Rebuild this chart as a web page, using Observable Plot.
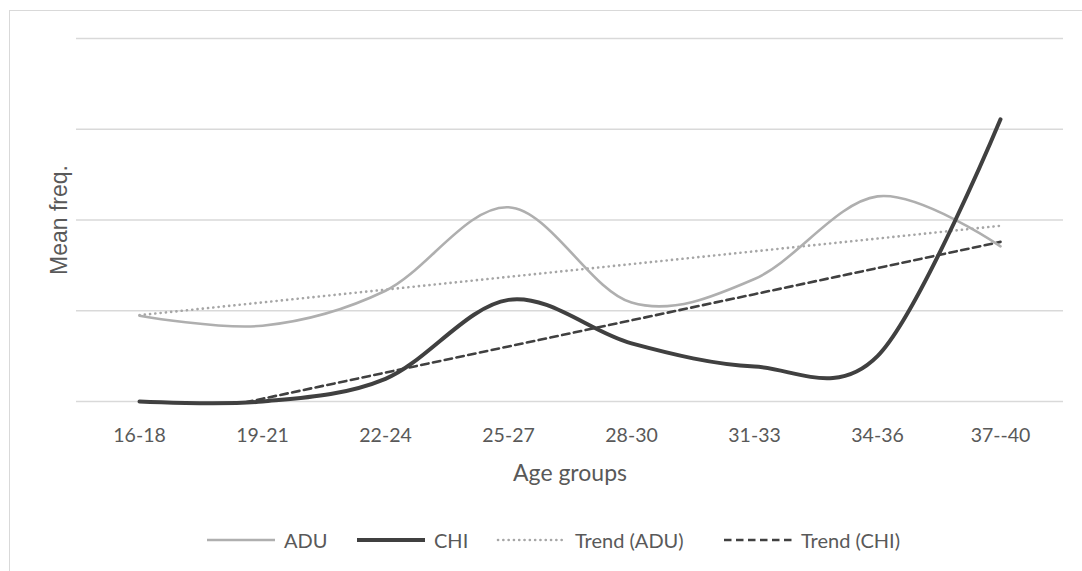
<!DOCTYPE html>
<html>
<head>
<meta charset="utf-8">
<script src="https://cdn.jsdelivr.net/npm/d3@7"></script>
<script src="https://cdn.jsdelivr.net/npm/@observablehq/plot@0.6"></script>
<style>
  body { margin: 0; background: #fff; font-family: Lato, "Open Sans", sans-serif; color: #595959; }
  #wrap { position: relative; width: 1082px; height: 571px; overflow: hidden; }
  #frame { position: absolute; left: 9px; top: 10px; width: 1200px; height: 700px; border: 1px solid #d9d9d9; box-sizing: border-box; }
  #chart { position: absolute; left: 0; top: 0; }
  #legend { position: relative; height: 40px; font-size: 20px; color: #595959; }
  .item { position: absolute; top: 0; height: 40px; display: flex; align-items: center; white-space: nowrap; }
  .item svg { margin-right: 7px; }
</style>
</head>
<body>
<div id="wrap">
  <div id="frame"></div>
  <div id="chart"></div>
</div>
<script>
// Age groups on the x axis
const ageGroups = ["16-18", "19-21", "22-24", "25-27", "28-30", "31-33", "34-36", "37--40"];
// Mean frequency per age group
const aduValues = [0.945, 0.835, 1.22, 2.14, 1.09, 1.35, 2.26, 1.71];
const chiValues = [0, 0, 0.25, 1.12, 0.64, 0.385, 0.5, 3.11];
// Horizontal gridlines (no tick labels are shown on the y axis)
const gridValues = [0, 1, 2, 3, 4];

// Least-squares linear trend over the group index (1..n)
function linearTrend(vals) {
  const xs = vals.map((_, i) => i + 1);
  const mx = d3.mean(xs), my = d3.mean(vals);
  const slope = d3.sum(xs, (x, i) => (x - mx) * (vals[i] - my)) / d3.sum(xs, x => (x - mx) ** 2);
  return xs.map(x => my + slope * (x - mx));
}

const toRows = (vals) => ageGroups.map((g, i) => ({group: g, value: vals[i]}));
const adu = toRows(aduValues);
const chi = toRows(chiValues);
const aduTrend = toRows(linearTrend(aduValues));
const chiTrend = toRows(linearTrend(chiValues));

const styles = {
  adu:      {stroke: "#afafaf", strokeWidth: 2.6},
  chi:      {stroke: "#404040", strokeWidth: 4},
  aduTrend: {stroke: "#a6a6a6", strokeWidth: 2.6, strokeDasharray: "0.1 5.2", strokeLinecap: "round"},
  chiTrend: {stroke: "#404040", strokeWidth: 2.6, strokeDasharray: "7.5 4.5"}
};

const chart = Plot.plot({
  width: 1082,
  height: 520,
  marginLeft: 76,
  marginRight: 19,
  marginTop: 38,
  marginBottom: 119,
  style: {background: "transparent", color: "#595959", fontFamily: "Lato, 'Open Sans', sans-serif"},
  x: {type: "point", domain: ageGroups, padding: 0.5},
  y: {domain: [0, 4]},
  marks: [
    Plot.ruleY(gridValues, {stroke: "#d9d9d9", strokeWidth: 1.4}),
    Plot.axisX({tickSize: 0, tickPadding: 27, fontSize: 19.5, label: null}),
    Plot.axisY({ticks: [], label: null}),
    Plot.line(aduTrend, {x: "group", y: "value", ...styles.aduTrend}),
    Plot.line(chiTrend, {x: "group", y: "value", clip: true, ...styles.chiTrend}),
    Plot.line(adu, {x: "group", y: "value", curve: "catmull-rom", tension: 0, ...styles.adu}),
    Plot.line(chi, {x: "group", y: "value", curve: "catmull-rom", tension: 0, strokeLinecap: "round", ...styles.chi}),
    Plot.text(["Age groups"], {text: d => d, frameAnchor: "bottom", textAnchor: "middle", dy: 79, fontSize: 23, fill: "#595959"}),
    Plot.text(["Mean freq."], {text: d => d, frameAnchor: "left", textAnchor: "middle", rotate: -90, dx: -17, fontSize: 23, fill: "#595959", fontFamily: "'Liberation Sans', Arial, sans-serif"})
  ]
});

const host = document.getElementById("chart");
host.appendChild(chart);

// Legend below the chart
const legendItems = [
  {label: "ADU", style: styles.adu, left: 205},
  {label: "CHI", style: styles.chi, left: 355},
  {label: "Trend (ADU)", style: styles.aduTrend, left: 496},
  {label: "Trend (CHI)", style: styles.chiTrend, left: 722}
];
const legend = document.createElement("div");
legend.id = "legend";
for (const item of legendItems) {
  const el = document.createElement("div");
  el.className = "item";
  el.style.left = item.left + "px";
  const s = item.style;
  el.innerHTML =
    `<svg width="72" height="10"><line x1="2" x2="70" y1="5" y2="5" stroke="${s.stroke}" stroke-width="${s.strokeWidth}"` +
    (s.strokeDasharray ? ` stroke-dasharray="${s.strokeDasharray}"` : "") +
    (s.strokeLinecap ? ` stroke-linecap="${s.strokeLinecap}"` : "") +
    `/></svg><span>${item.label}</span>`;
  legend.appendChild(el);
}
host.appendChild(legend);
</script>
</body>
</html>
